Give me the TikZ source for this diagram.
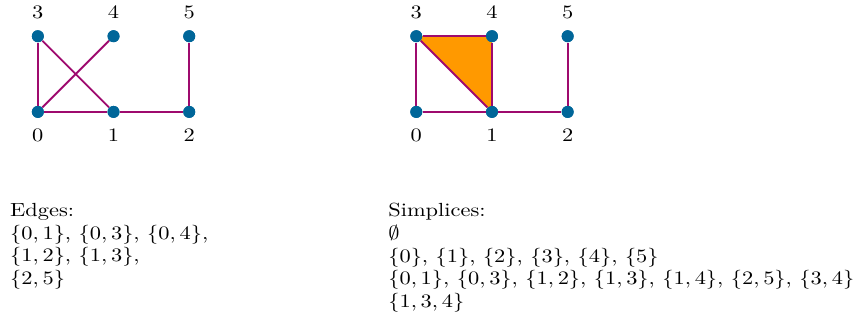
\documentclass[tikz,border=0pt]{standalone}
\definecolor{vblue}{HTML}{006699}
\definecolor{eplum}{HTML}{9E0A6E}
\definecolor{forange}{HTML}{FF9900}
\begin{document}
\begin{tikzpicture}[
  vert/.style={circle,fill=vblue,inner sep=0pt,minimum size=6.3pt},
  edge/.style={eplum,line width=1pt},
  face/.style={fill=forange},
  listbox/.style={anchor=north west,align=left,inner sep=0pt,xscale=1.18},
  every label/.style={label distance=2.3pt,xscale=1.18}
]
  \useasboundingbox (-0.70,-4.05) rectangle (15.17,2.07);

  % graph
  \node[vert,label=below:$0$] (g0) at (0,0) {};
  \node[vert,label=below:$1$] (g1) at (1.4,0) {};
  \node[vert,label=below:$2$] (g2) at (2.8,0) {};
  \node[vert,label=above:$3$] (g3) at (0,1.4) {};
  \node[vert,label=above:$4$] (g4) at (1.4,1.4) {};
  \node[vert,label=above:$5$] (g5) at (2.8,1.4) {};

  \draw[edge] (g0) -- (g1);
  \draw[edge] (g0) -- (g3);
  \draw[edge] (g0) -- (g4);
  \draw[edge] (g1) -- (g2);
  \draw[edge] (g1) -- (g3);
  \draw[edge] (g2) -- (g5);

  % simplicial complex
  \node[vert,label=below:$0$] (s0) at (7,0) {};
  \node[vert,label=below:$1$] (s1) at (8.4,0) {};
  \node[vert,label=below:$2$] (s2) at (9.8,0) {};
  \node[vert,label=above:$3$] (s3) at (7,1.4) {};
  \node[vert,label=above:$4$] (s4) at (8.4,1.4) {};
  \node[vert,label=above:$5$] (s5) at (9.8,1.4) {};

  \fill[face] (s1.center) -- (s3.center) -- (s4.center) -- cycle;
  \draw[edge] (s0) -- (s1);
  \draw[edge] (s0) -- (s3);
  \draw[edge] (s1) -- (s2);
  \draw[edge] (s1) -- (s3);
  \draw[edge] (s1) -- (s4);
  \draw[edge] (s2) -- (s5);
  \draw[edge] (s3) -- (s4);
  \foreach \v in {0,...,5} {
    \node[vert] at (s\v) {};
    \node[vert] at (g\v) {};
  }

  % lists
  \node[listbox] (edges) at (-0.52,-1.68)
    {Edges:\\
     $\{0,1\}$, $\{0,3\}$, $\{0,4\}$,\\
     $\{1,2\}$, $\{1,3\}$,\\
     $\{2,5\}$};
  \node[listbox] (simplices) at (6.475,-1.68)
    {Simplices:\\
     $\emptyset$\\
     $\{0\}$, $\{1\}$, $\{2\}$, $\{3\}$, $\{4\}$, $\{5\}$\\
     $\{0,1\}$, $\{0,3\}$, $\{1,2\}$, $\{1,3\}$, $\{1,4\}$, $\{2,5\}$, $\{3,4\}$\\
     $\{1,3,4\}$};
\end{tikzpicture}
\end{document}
